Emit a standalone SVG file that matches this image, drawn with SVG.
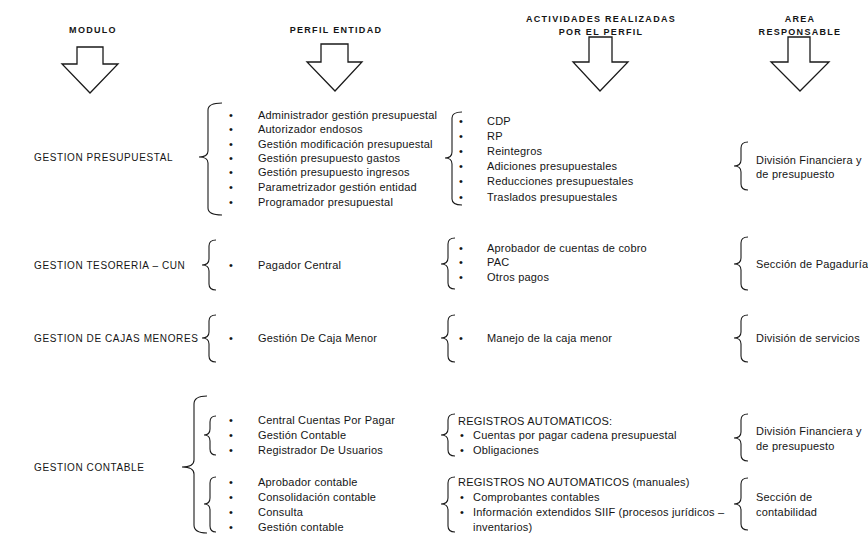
<svg xmlns="http://www.w3.org/2000/svg" width="868" height="535" viewBox="0 0 868 535">
<style>
text{font-family:"Liberation Sans",Arial,sans-serif;fill:#151515;}
.h{font-size:9px;font-weight:bold;letter-spacing:1.3px;text-anchor:middle;}
.m{font-size:10px;letter-spacing:0.6px;}
.t{font-size:11px;letter-spacing:0.2px;}
.br{fill:none;stroke:#1a1a1a;stroke-width:1.1;}
.ar{fill:#fff;stroke:#1a1a1a;stroke-width:1.3;stroke-linejoin:miter;}
</style>
<rect width="868" height="535" fill="#fff"/>
<g id="headers">
<text class="h" x="93" y="33">MODULO</text>
<text class="h" x="336" y="33">PERFIL ENTIDAD</text>
<text class="h" x="601" y="22">ACTIVIDADES  REALIZADAS</text>
<text class="h" x="601" y="35">POR EL PERFIL</text>
<text class="h" x="800" y="22">AREA</text>
<text class="h" x="800" y="35">RESPONSABLE</text>
<polygon class="ar" points="77,47 103,47 103,64 118,64 90,93 62,64 77,64"/>
<polygon class="ar" points="321,44 348,44 348,62 362,62 335,91 307,62 321,62"/>
<polygon class="ar" points="589,37 612,37 612,62 628,62 600,91 573,62 589,62"/>
<polygon class="ar" points="788,37 810,37 810,62 829,62 800,91 771,62 788,62"/>
</g>
<g id="connectors">
<path class="br" d="M222,103 Q208,103 208,110 L208,151 Q208,157 199,157 Q208,157 208,163 L208,208 Q208,215 222,215"/>
<path class="br" d="M462,112 Q452,112 452,118 L452,152 Q452,158 445,158 Q452,158 452,164 L452,199 Q452,205 462,205"/>
<path class="br" d="M748,142 Q741,142 741,148 L741,160 Q741,166 734,166 Q741,166 741,172 L741,184 Q741,190 748,190"/>
<path class="br" d="M216,240 Q209,240 209,246 L209,259 Q209,265 202,265 Q209,265 209,271 L209,284 Q209,290 216,290"/>
<path class="br" d="M455,238 Q448,238 448,244 L448,258 Q448,264 441,264 Q448,264 448,270 L448,283 Q448,289 455,289"/>
<path class="br" d="M748,237 Q741,237 741,243 L741,258 Q741,264 734,264 Q741,264 741,270 L741,284 Q741,290 748,290"/>
<path class="br" d="M216,315 Q209,315 209,321 L209,332 Q209,338 202,338 Q209,338 209,344 L209,356 Q209,362 216,362"/>
<path class="br" d="M455,315 Q448,315 448,321 L448,332 Q448,338 441,338 Q448,338 448,344 L448,356 Q448,362 455,362"/>
<path class="br" d="M748,315 Q741,315 741,321 L741,332 Q741,338 734,338 Q741,338 741,344 L741,356 Q741,362 748,362"/>
<path class="br" d="M207,396 Q194,396 194,404 L194,460 Q194,467 182,467 Q194,467 194,474 L194,525 Q194,533 207,533"/>
<path class="br" d="M216,416 Q210,416 210,422 L210,429 Q210,435 204,435 Q210,435 210,441 L210,449 Q210,455 216,455"/>
<path class="br" d="M216,477 Q210,477 210,483 L210,498 Q210,504 204,504 Q210,504 210,510 L210,526 Q210,532 216,532"/>
<path class="br" d="M455,414 Q448,414 448,420 L448,429 Q448,435 441,435 Q448,435 448,441 L448,450 Q448,456 455,456"/>
<path class="br" d="M455,477 Q448,477 448,483 L448,498 Q448,504 441,504 Q448,504 448,510 L448,526 Q448,532 455,532"/>
<path class="br" d="M748,414 Q741,414 741,420 L741,432 Q741,438 734,438 Q741,438 741,444 L741,455 Q741,461 748,461"/>
<path class="br" d="M748,478 Q741,478 741,484 L741,498 Q741,504 734,504 Q741,504 741,510 L741,524 Q741,530 748,530"/>
</g>
<g id="row-presupuestal">
<text class="m" x="34" y="161">GESTION PRESUPUESTAL</text>
<g class="t">
<text x="229" y="119">•</text><text x="258" y="119">Administrador gestión presupuestal</text>
<text x="229" y="133">•</text><text x="258" y="133">Autorizador endosos</text>
<text x="229" y="148">•</text><text x="258" y="148">Gestión modificación presupuestal</text>
<text x="229" y="162">•</text><text x="258" y="162">Gestión presupuesto gastos</text>
<text x="229" y="176">•</text><text x="258" y="176">Gestión presupuesto ingresos</text>
<text x="229" y="191">•</text><text x="258" y="191">Parametrizador gestión entidad</text>
<text x="229" y="206">•</text><text x="258" y="206">Programador presupuestal</text>
<text x="459" y="125">•</text><text x="487" y="125">CDP</text>
<text x="459" y="140">•</text><text x="487" y="140">RP</text>
<text x="459" y="155">•</text><text x="487" y="155">Reintegros</text>
<text x="459" y="170">•</text><text x="487" y="170">Adiciones presupuestales</text>
<text x="459" y="185">•</text><text x="487" y="185">Reducciones presupuestales</text>
<text x="459" y="201">•</text><text x="487" y="201">Traslados presupuestales</text>
<text x="756" y="164">División Financiera y</text>
<text x="756" y="178">de presupuesto</text>
</g>
</g>
<g id="row-tesoreria">
<text class="m" x="34" y="269">GESTION TESORERIA – CUN</text>
<g class="t">
<text x="229" y="269">•</text><text x="258" y="269">Pagador Central</text>
<text x="459" y="252">•</text><text x="487" y="252">Aprobador de cuentas de cobro</text>
<text x="459" y="266">•</text><text x="487" y="266">PAC</text>
<text x="459" y="281">•</text><text x="487" y="281">Otros pagos</text>
<text x="756" y="268">Sección de Pagaduría</text>
</g>
</g>
<g id="row-cajas">
<text class="m" x="34" y="342">GESTION DE CAJAS MENORES</text>
<g class="t">
<text x="229" y="342">•</text><text x="258" y="342">Gestión De Caja Menor</text>
<text x="459" y="342">•</text><text x="487" y="342">Manejo de la caja menor</text>
<text x="756" y="342">División de servicios</text>
</g>
</g>
<g id="row-contable">
<text class="m" x="34" y="471">GESTION CONTABLE</text>
<g class="t">
<text x="229" y="424">•</text><text x="258" y="424">Central Cuentas Por Pagar</text>
<text x="229" y="439">•</text><text x="258" y="439">Gestión Contable</text>
<text x="229" y="454">•</text><text x="258" y="454">Registrador De Usuarios</text>
<text x="229" y="486">•</text><text x="258" y="486">Aprobador contable</text>
<text x="229" y="501">•</text><text x="258" y="501">Consolidación contable</text>
<text x="229" y="516">•</text><text x="258" y="516">Consulta</text>
<text x="229" y="531">•</text><text x="258" y="531">Gestión contable</text>
<text x="458" y="425">REGISTROS AUTOMATICOS:</text>
<text x="460" y="439">•</text><text x="473" y="439">Cuentas por pagar cadena presupuestal</text>
<text x="460" y="454">•</text><text x="473" y="454">Obligaciones</text>
<text x="458" y="486">REGISTROS NO AUTOMATICOS  (manuales)</text>
<text x="460" y="501">•</text><text x="473" y="501">Comprobantes contables</text>
<text x="460" y="516">•</text><text x="473" y="516">Información extendidos SIIF  (procesos jurídicos –</text>
<text x="473" y="531">inventarios)</text>
<text x="756" y="435">División Financiera y</text>
<text x="756" y="450">de presupuesto</text>
<text x="756" y="501">Sección de</text>
<text x="756" y="516">contabilidad</text>
</g>
</g>
</svg>
